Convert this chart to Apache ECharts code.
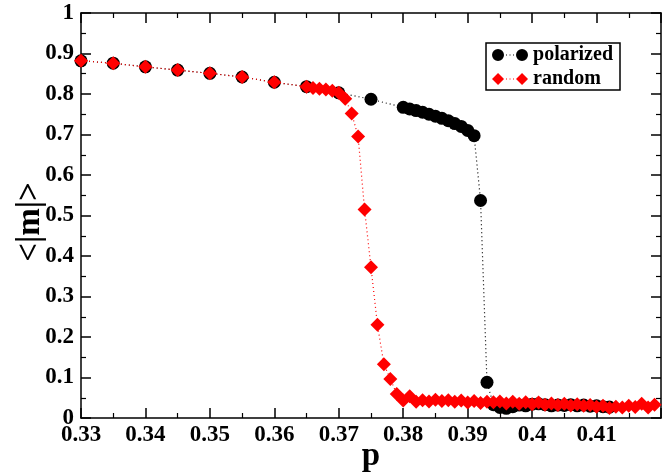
<!DOCTYPE html>
<html>
<head>
<meta charset="utf-8">
<script src="https://cdn.jsdelivr.net/npm/echarts@6/dist/echarts.min.js"></script>
<style>html,body{margin:0;padding:0;background:#fff}#c{width:670px;height:474px}</style>
</head>
<body>
<div id="c"></div>
<script>
// ---- data ----
const pPolar = [0.330,0.335,0.340,0.345,0.350,0.355,0.360,0.365,0.370,0.375,
  0.380,0.381,0.382,0.383,0.384,0.385,0.386,0.387,0.388,0.389,0.390,0.391,
  0.392,0.393,0.394,0.395,0.396,0.397,0.398,0.399,0.400,0.401,0.402,0.403,
  0.404,0.405,0.406,0.407,0.408,0.409,0.410,0.411,0.412];
const mPolar = [0.882,0.876,0.867,0.859,0.851,0.842,0.829,0.818,0.803,0.787,
  0.767,0.763,0.759,0.755,0.750,0.745,0.740,0.734,0.727,0.720,0.710,0.697,
  0.537,0.088,0.033,0.026,0.024,0.028,0.032,0.030,0.034,0.035,0.033,0.030,
  0.032,0.031,0.033,0.030,0.032,0.029,0.030,0.028,0.027];
const pRandom = [0.330,0.335,0.340,0.345,0.350,0.355,0.360,0.365,
  0.366,0.367,0.368,0.369,0.370,0.371,0.372,0.373,0.374,0.375,0.376,0.377,0.378,0.379,
  0.380,0.381,0.382,0.383,0.384,0.385,0.386,0.387,0.388,0.389,0.390,0.391,0.392,0.393,
  0.394,0.395,0.396,0.397,0.398,0.399,0.400,0.401,0.402,0.403,0.404,0.405,0.406,0.407,
  0.408,0.409,0.410,0.411,0.412,0.413,0.414,0.415,0.416,0.417,0.418,0.419];
const mRandom = [0.882,0.876,0.867,0.859,0.851,0.842,0.829,0.818,
  0.815,0.813,0.811,0.808,0.803,0.788,0.752,0.695,0.515,0.372,0.230,0.133,0.096,0.059,
  0.043,0.054,0.040,0.044,0.041,0.045,0.042,0.044,0.040,0.043,0.038,0.042,0.037,0.040,
  0.039,0.041,0.036,0.040,0.035,0.039,0.034,0.038,0.033,0.036,0.032,0.035,0.031,0.034,
  0.030,0.032,0.028,0.030,0.025,0.028,0.026,0.030,0.027,0.035,0.026,0.033];
const xTicks = {min: 0.33, max: 0.42, step: 0.01};
const yTicks = {min: 0, max: 1, step: 0.1};
const seriesNames = ['polarized', 'random'];

// ---- chart ----
const FONT = '"Liberation Serif", "DejaVu Serif", serif';
const zip = (a, b) => a.map((v, i) => [v, b[i]]);
const fmt = v => String(parseFloat((+v).toFixed(2)));

const circleIcon = 'path://M0,6a6,6 0 1,0 12,0a6,6 0 1,0 -12,0Z M24,6a6,6 0 1,0 12,0a6,6 0 1,0 -12,0Z M14,5.5h1v1h-1Z M17.5,5.5h1v1h-1Z M21,5.5h1v1h-1Z';
const diamondIcon = 'path://M0,6L6,0L12,6L6,12Z M24,6L30,0L36,6L30,12Z M14,5.5h1v1h-1Z M17.5,5.5h1v1h-1Z M21,5.5h1v1h-1Z';

const axisCommon = {
  axisLine: {show: true, onZero: false, lineStyle: {color: '#000', width: 1.5}},
  axisTick: {show: true, inside: true, length: 10, lineStyle: {color: '#000', width: 1.5}},
  minorTick: {show: true, splitNumber: 2, length: 5, lineStyle: {color: '#000', width: 1.2}},
  splitLine: {show: false}
};

const chart = echarts.init(document.getElementById('c'), null, {renderer: 'canvas'});
chart.setOption({
  animation: false,
  backgroundColor: '#fff',
  grid: {left: 81, right: 9, top: 13, bottom: 56, containLabel: false, outerBoundsMode: 'none'},
  legend: {
    right: 50, top: 43,
    orient: 'vertical',
    itemWidth: 36, itemHeight: 12, itemGap: 4,
    padding: [2, 7, 1, 6],
    borderColor: '#000', borderWidth: 1.5,
    backgroundColor: '#fff',
    textStyle: {fontFamily: FONT, fontWeight: 'bold', fontSize: 20, color: '#000'},
    data: [
      {name: seriesNames[0], icon: circleIcon, itemStyle: {color: '#000'}},
      {name: seriesNames[1], icon: diamondIcon, itemStyle: {color: '#ff0000'}}
    ]
  },
  xAxis: [
    Object.assign({}, axisCommon, {
      type: 'value', min: xTicks.min, max: xTicks.max, interval: xTicks.step,
      name: 'p', nameLocation: 'middle', nameGap: 22, nameMoveOverlap: false,
      nameTextStyle: {fontFamily: FONT, fontWeight: 'bold', fontSize: 33, color: '#000'},
      axisLabel: {
        margin: 6, fontFamily: FONT, fontWeight: 'bold', fontSize: 23, color: '#000',
        formatter: v => (v > 0.415 ? '' : fmt(v))
      }
    }),
    Object.assign({}, axisCommon, {
      type: 'value', position: 'top', min: xTicks.min, max: xTicks.max, interval: xTicks.step,
      axisLabel: {show: false}
    })
  ],
  yAxis: [
    Object.assign({}, axisCommon, {
      type: 'value', min: yTicks.min, max: yTicks.max, interval: yTicks.step,
      name: '<|m|>', nameLocation: 'middle', nameGap: 34, nameRotate: 90, nameMoveOverlap: false,
      nameTextStyle: {fontFamily: FONT, fontWeight: 'bold', fontSize: 33, color: '#000', padding: [0, 13, 0, 0]},
      axisLabel: {margin: 7, fontFamily: FONT, fontWeight: 'bold', fontSize: 23, color: '#000', formatter: fmt}
    }),
    Object.assign({}, axisCommon, {
      type: 'value', position: 'right', min: yTicks.min, max: yTicks.max, interval: yTicks.step,
      axisLabel: {show: false}
    })
  ],
  series: [
    {
      name: seriesNames[0], type: 'line', xAxisIndex: 0, yAxisIndex: 0,
      data: zip(pPolar, mPolar),
      symbol: 'circle', symbolSize: 13,
      itemStyle: {color: '#000'},
      lineStyle: {color: '#000', width: 1.2, type: [1, 3]},
      z: 2
    },
    {
      name: seriesNames[1], type: 'line', xAxisIndex: 0, yAxisIndex: 0,
      data: zip(pRandom, mRandom),
      symbol: 'diamond', symbolSize: 14,
      itemStyle: {color: '#ff0000'},
      lineStyle: {color: '#ff0000', width: 1.2, type: [1, 3]},
      z: 3
    }
  ]
});
</script>
</body>
</html>
